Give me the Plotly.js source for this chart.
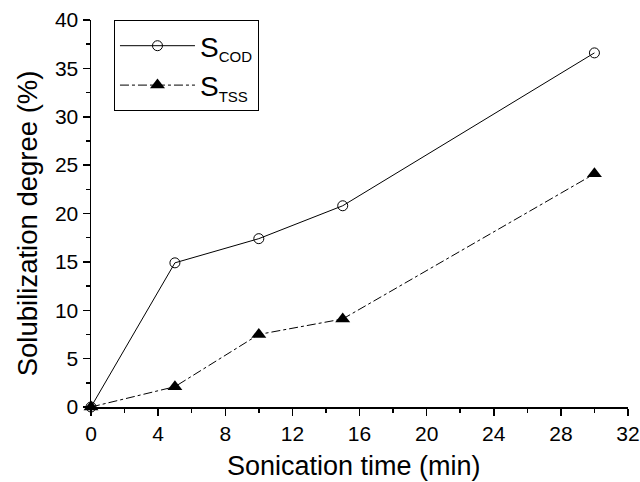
<!DOCTYPE html>
<html>
<head>
<meta charset="utf-8">
<script src="https://cdn.plot.ly/plotly-3.0.1.min.js"></script>
<style>html,body{margin:0;padding:0;background:#fff;}#chart{width:640px;height:482px;}</style>
</head>
<body>
<div id="chart"></div>
<script>
const time = [0, 5, 10, 15, 30];
const sCOD = [0, 14.9, 17.4, 20.8, 36.6];
const sTSS = [0, 2.1, 7.5, 9.1, 24.1];
const xTicks = [0, 4, 8, 12, 16, 20, 24, 28, 32];
const yTicks = [0, 5, 10, 15, 20, 25, 30, 35, 40];
const xTitle = 'Sonication time (min)';
const yTitle = 'Solubilization degree (%)';

const FONT = '"Liberation Sans", Arial, sans-serif';
const tickFont = {family: FONT, size: 21, color: '#000'};

const traces = [
  {x: time, y: sCOD, name: 'S<sub><span style="font-size:15px">COD</span></sub>', mode: 'lines+markers', cliponaxis: false,
   line: {color: '#000', width: 1, dash: 'solid'},
   marker: {symbol: 'circle-open', size: 10, color: '#000', line: {width: 1, color: '#000'}}},
  {x: time, y: sTSS, name: 'S<sub><span style="font-size:15px">TSS</span></sub>', mode: 'lines+markers', cliponaxis: false,
   line: {color: '#000', width: 1, dash: 'dashdot'},
   marker: {symbol: 'triangle-up', size: 13, color: '#000'}}
];

const layout = {
  width: 640, height: 482,
  margin: {l: 91, r: 12, t: 20, b: 75},
  paper_bgcolor: '#fff', plot_bgcolor: '#fff',
  showlegend: true,
  legend: {x: 0.0428, y: 1.0, xanchor: 'left', yanchor: 'top',
    bordercolor: '#000', borderwidth: 1, bgcolor: '#fff',
    font: {family: FONT, size: 28, color: '#000'},
    itemwidth: 75},
  xaxis: {range: [0, 32], tickvals: xTicks, ticktext: xTicks.map(String), automargin: false,
    showgrid: false, zeroline: false, showline: true, linecolor: '#000', linewidth: 1.5,
    ticks: 'outside', ticklen: 7, tickwidth: 1.5, tickcolor: '#000',
    minor: {dtick: 2, ticks: 'outside', ticklen: 4, tickwidth: 1.5, tickcolor: '#000'},
    tickfont: tickFont, ticklabeloverflow: 'allow'},
  yaxis: {range: [0, 40], tickvals: yTicks, ticktext: yTicks.map(String), automargin: false,
    showgrid: false, zeroline: false, showline: true, linecolor: '#000', linewidth: 1.5,
    ticks: 'outside', ticklen: 7, tickwidth: 1.5, tickcolor: '#000',
    minor: {dtick: 2.5, ticks: 'outside', ticklen: 4, tickwidth: 1.5, tickcolor: '#000'},
    tickfont: tickFont, ticklabeloverflow: 'allow'},
  annotations: [
    {text: xTitle, xref: 'paper', yref: 'paper', x: 0.49, y: -0.153, xanchor: 'center', yanchor: 'middle',
     showarrow: false, font: {family: FONT, size: 27, color: '#000'}},
    {text: yTitle, xref: 'paper', yref: 'paper', x: -0.119, y: 0.475, xanchor: 'center', yanchor: 'middle',
     textangle: -90, showarrow: false, font: {family: FONT, size: 27.5, color: '#000'}}
  ]
};

Plotly.newPlot('chart', traces, layout, {displayModeBar: false, staticPlot: true});
</script>
</body>
</html>
